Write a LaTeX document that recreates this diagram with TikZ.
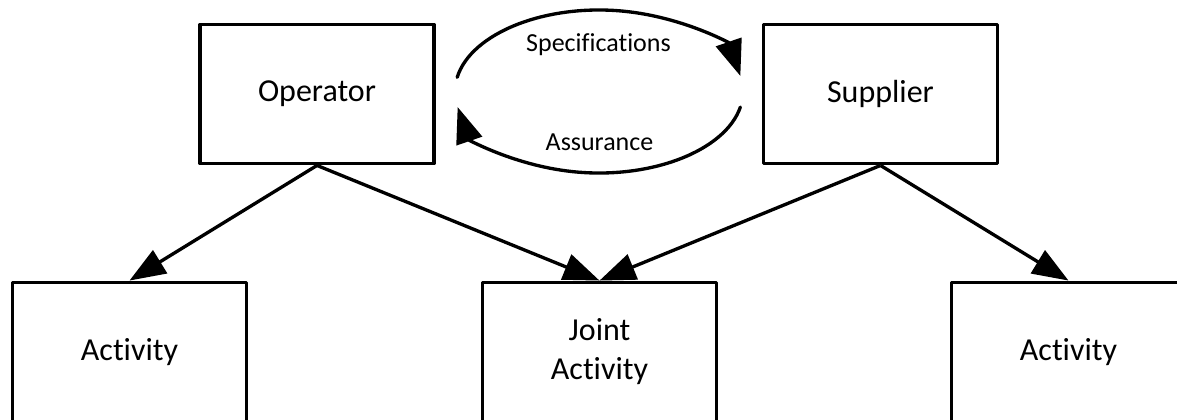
\documentclass[tikz,border=0pt]{standalone}
\usepackage{fontspec}
\setmainfont{Carlito}[Ligatures=CommonOff]
\usetikzlibrary{arrows.meta}
\begin{document}
\begin{tikzpicture}[x=0.75pt, y=-0.75pt,
  box/.style={draw, line width=2.9pt, line join=round, minimum width=175.5pt,
    minimum height=104.25pt, inner sep=0pt, align=center,
    font=\fontsize{24}{29.3}\selectfont},
  link/.style={line width=2.5pt, -{Triangle[length=27pt, width=20pt]}},
  loop/.style={line width=2.5pt, line cap=round, -{Triangle[length=27pt, width=20pt]}},
  arclabel/.style={anchor=base, inner sep=0pt, font=\fontsize{19.5}{24}\selectfont}]
  \path[use as bounding box, clip] (0,0) rectangle (1177,419);

  % upper row
  \node[box] (op)  at (317,94)    {Operator};
  \node[box] (sup) at (880.5,94)  {Supplier};

  % lower row (boxes run past the lower and right edges)
  \node[box] (act1)  at (129.5,352)  {Activity};
  \node[box] (joint) at (599.5,352)  {Joint\\Activity};
  \node[box] (act2)  at (1068.5,352) {Activity};

  % exchange between operator and supplier
  \coordinate (ec) at (599,91.5);
  \draw[loop] ([shift={(-170:144 and 81.5)}]ec)
    arc[start angle=-170, end angle=-11, x radius=144, y radius=81.5];
  \draw[loop] ([shift={(11:144 and 81.5)}]ec)
    arc[start angle=11, end angle=169, x radius=144, y radius=81.5];
  \node[arclabel] (spec) at (598.5,51.5) {Specifications};
  \node[arclabel] (assur) at (599.5,150) {Assurance};

  % responsibilities
  \draw[link] (op.south)  -- (act1.north);
  \draw[link] (op.south)  -- (joint.north);
  \draw[link] (sup.south) -- (joint.north);
  \draw[link] (sup.south) -- (act2.north);
\end{tikzpicture}
\end{document}
